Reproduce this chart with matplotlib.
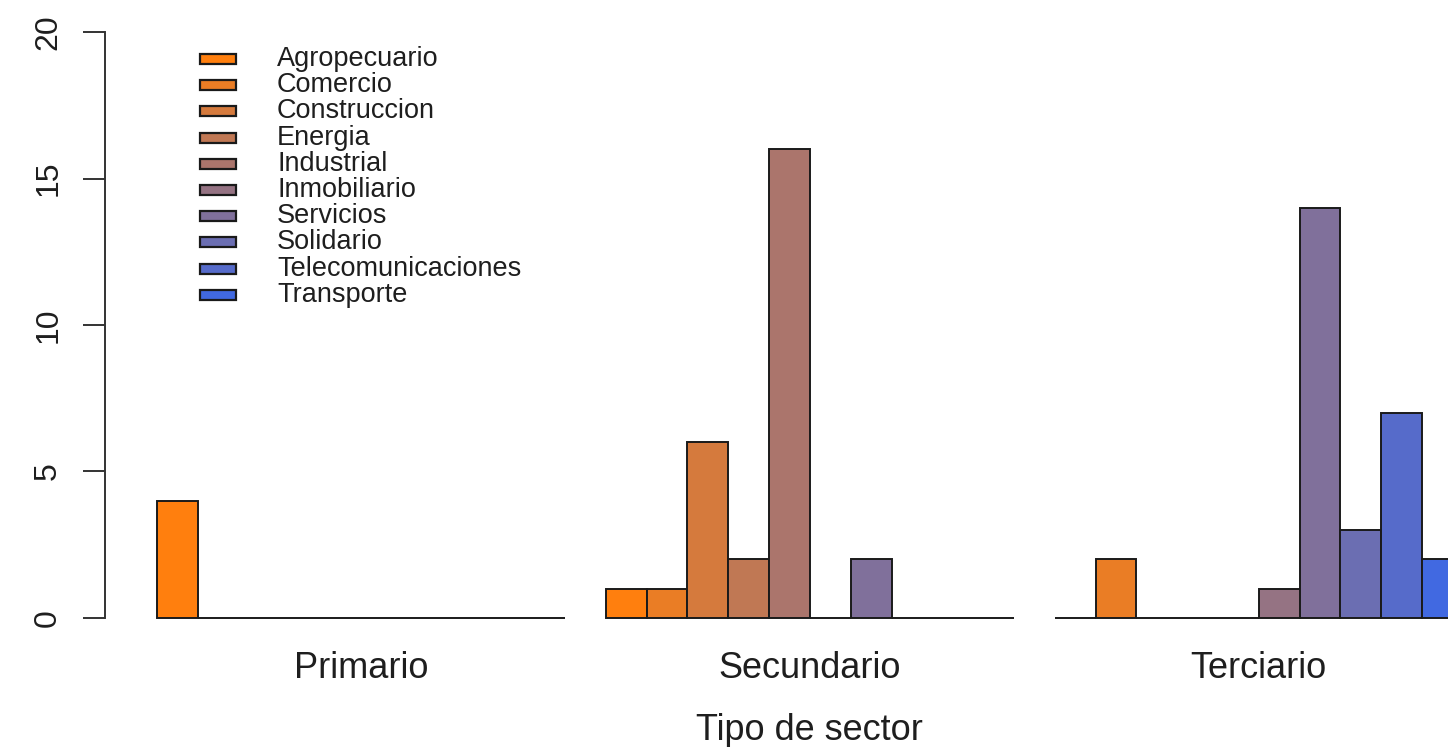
import numpy as np
import matplotlib
matplotlib.use("Agg")
import matplotlib.pyplot as plt
from matplotlib.patches import Rectangle

plt.rcParams['font.family'] = ['Liberation Sans', 'DejaVu Sans']

# Conteo de empresas por tipo de sector y actividad
sectores = ['Primario', 'Secundario', 'Terciario']
actividades = ['Agropecuario', 'Comercio', 'Construccion', 'Energia', 'Industrial',
               'Inmobiliario', 'Servicios', 'Solidario', 'Telecomunicaciones', 'Transporte']
primario = [4, 0, 0, 0, 0, 0, 0, 0, 0, 0]
secundario = [1, 1, 6, 2, 16, 0, 2, 0, 0, 0]
terciario = [0, 2, 0, 0, 0, 1, 14, 3, 7, 2]
conteos = [primario, secundario, terciario]

# Paleta de naranja a azul (como colorRampPalette en R)
ini = np.array([255, 127, 14]) / 255
fin = np.array([65, 105, 225]) / 255
colores = [tuple(ini + (fin - ini) * t) for t in np.linspace(0, 1, len(actividades))]

W, H = 1448, 747
fig = plt.figure(figsize=(W / 100, H / 100), dpi=100)
# el area de dibujo se sale por la derecha, como en la imagen original
ax = fig.add_axes([104.8 / W, 1 - 641.4 / H, (1515 - 104.8) / W, (641.4 - 8.6) / H])

n = len(actividades)
centros = []
for g, valores in enumerate(conteos):
    x0 = 1 + g * (n + 1)
    xs = x0 + np.arange(n) + 0.5
    ax.bar(xs, valores, width=1, color=colores, edgecolor='#1a1a1a', linewidth=1.4)
    centros.append(x0 + n / 2)

ax.set_xlim(-0.28, 34.28)
ax.set_ylim(-0.8, 20.8)

for s in ['top', 'right', 'bottom']:
    ax.spines[s].set_visible(False)
ax.spines['left'].set_bounds(0, 20)
ax.spines['left'].set_color('#333333')
ax.spines['left'].set_linewidth(1.4)

ax.set_yticks([0, 5, 10, 15, 20])
ax.tick_params(axis='y', direction='out', length=16, width=1.4, color='#333333',
               labelsize=23, labelcolor='#1e1e1e', pad=14)
for lab in ax.get_yticklabels():
    lab.set_rotation(90)
    lab.set_va('center')

ax.set_xticks(centros)
ax.set_xticklabels(sectores)
ax.tick_params(axis='x', length=0, labelsize=26, labelcolor='#1e1e1e', pad=7)
ax.set_xlabel('Tipo de sector', fontsize=26, color='#1e1e1e', labelpad=19)

# leyenda dibujada a mano con cajitas de color
y0, paso = 59, 26.2
for i, (act, col) in enumerate(zip(actividades, colores)):
    yc = y0 + i * paso
    fig.patches.append(Rectangle((200 / W, 1 - (yc + 5) / H), 36 / W, 10 / H,
                                 transform=fig.transFigure, facecolor=col,
                                 edgecolor='#1a1a1a', linewidth=1.6))
    fig.text(277 / W, 1 - yc / H, act, fontsize=19.5, color='#1e1e1e',
             va='center', ha='left')

fig.savefig('out.png', dpi=100)
